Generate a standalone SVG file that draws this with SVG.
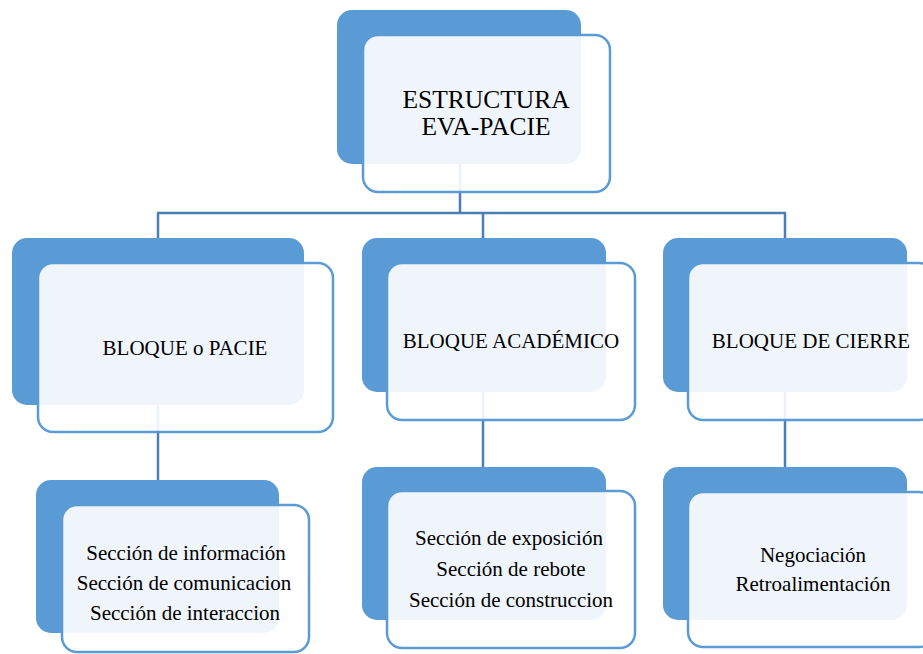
<svg xmlns="http://www.w3.org/2000/svg" width="923" height="654" viewBox="0 0 923 654">
<style>
.back{fill:#5B9BD5;}
.front{fill:#FFFFFF;fill-opacity:0.9;stroke:#5B9BD5;stroke-width:2.5;}
.conn{stroke:#4A7EB5;stroke-width:2.5;fill:none;}
.t{font-family:"Liberation Serif","Times New Roman",serif;fill:#000;text-anchor:middle;}
.t21{font-size:21px;}
.t26{font-size:25.5px;}
</style>
<rect width="923" height="654" fill="#FFFFFF"/>
<g id="back-shapes">
<rect class="back" x="337" y="10" width="244" height="154" rx="15"/>
<rect class="back" x="12" y="238" width="292" height="167" rx="15"/>
<rect class="back" x="362" y="238" width="244" height="154" rx="15"/>
<rect class="back" x="663" y="238" width="244" height="154" rx="15"/>
<rect class="back" x="36" y="480" width="243" height="153" rx="15"/>
<rect class="back" x="362" y="467" width="244" height="153" rx="15"/>
<rect class="back" x="663" y="467" width="244" height="153" rx="15"/>
</g>
<g id="connectors">
<path class="conn" d="M460 164 V213 M157 213 H786 M158 213 V238 M483 213 V238 M785 213 V238"/>
<path class="conn" d="M158 405 V480"/>
<path class="conn" d="M483 392 V467"/>
<path class="conn" d="M785 392 V467"/>
</g>
<g id="node-root">
<rect class="front" x="363" y="35" width="247" height="157" rx="15"/>
<text class="t t26" x="486" y="108">ESTRUCTURA</text>
<text class="t t26" x="486" y="135">EVA-PACIE</text>
</g>
<g id="node-pacie">
<rect class="front" x="38" y="263" width="295" height="169" rx="15"/>
<text class="t t21" x="185" y="355">BLOQUE o PACIE</text>
</g>
<g id="node-academico">
<rect class="front" x="387" y="263" width="248" height="157" rx="15"/>
<text class="t t21" x="511" y="348">BLOQUE ACADÉMICO</text>
</g>
<g id="node-cierre">
<rect class="front" x="688" y="263" width="246" height="157" rx="15"/>
<text class="t t21" x="811" y="348">BLOQUE DE CIERRE</text>
</g>
<g id="node-pacie-sections">
<rect class="front" x="62" y="505" width="247" height="147" rx="15"/>
<text class="t t21" x="186" y="560">Sección de información</text>
<text class="t t21" x="184" y="590">Sección de comunicacion</text>
<text class="t t21" x="185" y="620">Sección de interaccion</text>
</g>
<g id="node-academico-sections">
<rect class="front" x="387" y="491" width="248" height="157" rx="15"/>
<text class="t t21" x="509" y="545">Sección de exposición</text>
<text class="t t21" x="511" y="576">Sección de rebote</text>
<text class="t t21" x="511" y="607">Sección de construccion</text>
</g>
<g id="node-cierre-sections">
<rect class="front" x="688" y="492" width="246" height="155" rx="15"/>
<text class="t t21" x="813" y="562">Negociación</text>
<text class="t t21" x="813" y="591">Retroalimentación</text>
</g>
</svg>
